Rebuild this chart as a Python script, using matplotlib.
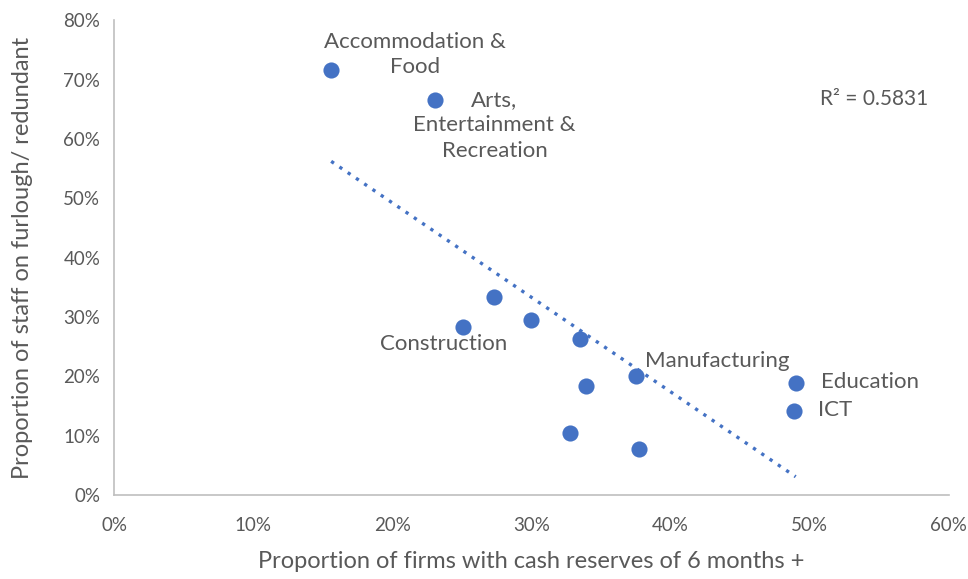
import matplotlib.pyplot as plt
import numpy as np
from matplotlib.ticker import PercentFormatter

plt.rcParams['font.family'] = ['Lato', 'DejaVu Sans']

# proportion of firms with cash reserves of 6 months+ (%)
cash = [15.6, 23.1, 27.3, 25.1, 30.0, 33.5, 33.9, 37.5, 32.8, 37.7, 49.0, 48.9]
# proportion of staff on furlough / redundant (%)
furlough = [71.7, 66.5, 33.3, 28.3, 29.5, 26.3, 18.4, 20.0, 10.4, 7.7, 18.9, 14.1]
labels = ['Accommodation &\nFood', 'Arts,\nEntertainment &\nRecreation', '', 'Construction',
          '', '', '', 'Manufacturing', '', '', 'Education', 'ICT']
r2_text = 'R² = 0.5831'

blue = '#4472C4'
grey = '#595959'

fig = plt.figure(figsize=(9.68, 5.79), dpi=100)
ax = fig.add_axes([0.118, 0.145, 0.862, 0.82])

x = np.array(cash)
y = np.array(furlough)
ax.scatter(x, y, s=135, color=blue, zorder=3, linewidths=0)

coef = np.polyfit(x, y, 1)
xs = np.array([x.min(), x.max()])
ax.plot(xs, np.polyval(coef, xs), color=blue, linestyle=(0, (1, 2.0)), linewidth=2.4, zorder=2)

offsets = {
    0: (84, 15, 'center'),
    1: (59, -25, 'center'),
    3: (-20, -17, 'center'),
    7: (82, 15, 'center'),
    10: (25, 1, 'left'),
    11: (24, 1, 'left'),
}
for i, (dx, dy, ha) in offsets.items():
    ax.annotate(labels[i], (x[i], y[i]), xytext=(dx, dy), textcoords='offset pixels',
                ha=ha, va='center', multialignment='center', fontsize=16,
                color=grey, linespacing=1.35)

ax.text(0.975, 0.835, r2_text, transform=ax.transAxes, ha='right', va='center',
        fontsize=15, color=grey)

ax.set_xlim(0, 60)
ax.set_ylim(0, 80)
ax.set_xticks(np.arange(0, 61, 10))
ax.set_yticks(np.arange(0, 81, 10))
ax.xaxis.set_major_formatter(PercentFormatter(decimals=0))
ax.yaxis.set_major_formatter(PercentFormatter(decimals=0))
ax.tick_params(length=0, labelsize=13.5, labelcolor=grey, pad=16)
ax.tick_params(axis='y', pad=10)

for s in ['top', 'right']:
    ax.spines[s].set_visible(False)
for s in ['left', 'bottom']:
    ax.spines[s].set_color('#BFBFBF')
    ax.spines[s].set_linewidth(1.2)

ax.set_xlabel('Proportion of firms with cash reserves of 6 months +', fontsize=17, color=grey, labelpad=12)
ax.set_ylabel('Proportion of staff on furlough/ redundant', fontsize=17, color=grey, labelpad=22)

fig.savefig('out.png', dpi=100)
